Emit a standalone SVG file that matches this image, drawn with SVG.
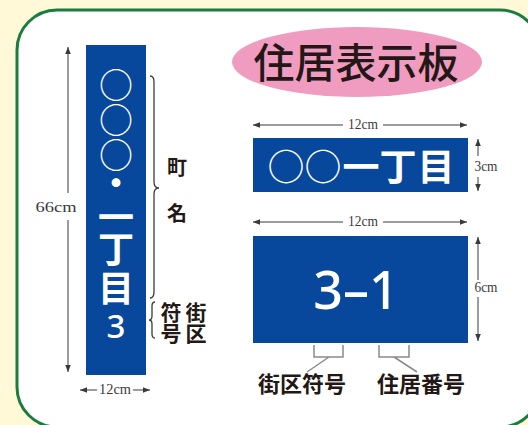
<svg xmlns="http://www.w3.org/2000/svg" width="528" height="425" viewBox="0 0 528 425">
<style>
.dim{stroke:#3a3a3a;stroke-width:1;fill:none}
.dt{font-family:"Liberation Serif",serif;font-size:14px;fill:#3a3a3a;text-anchor:middle}
.wt{font-family:"Noto Sans CJK JP",sans-serif;fill:#fff;font-weight:700;text-anchor:middle}
.wc{font-family:"Noto Sans CJK JP",sans-serif;fill:#fff;font-weight:400;text-anchor:middle}
.lb{font-family:"Noto Sans CJK JP",sans-serif;fill:#231815;font-weight:700;text-anchor:middle}
.board{fill:#07479c}
.brace{stroke:#3a3a3a;stroke-width:1.3;fill:none}
.br{stroke:#8a8a8a;stroke-width:1.5;fill:none}
</style>
<defs>
<marker id="ah" viewBox="0 0 10 10" refX="10" refY="5" markerWidth="7" markerHeight="7" orient="auto-start-reverse" markerUnits="userSpaceOnUse"><path d="M0,1 L10,5 L0,9 z" fill="#3a3a3a"/></marker>
</defs>
<rect x="0" y="0" width="528" height="425" fill="#fff9d8"/>
<rect x="17" y="10" width="523" height="417" rx="40" ry="40" fill="#ffffff" stroke="#1c7c3f" stroke-width="3"/>

<g id="title">
<ellipse cx="357" cy="62" rx="125" ry="35" fill="#f09cc1"/>
<text x="356" y="78" font-family="'Noto Sans CJK JP',sans-serif" font-size="41" font-weight="500" fill="#231815" text-anchor="middle">住居表示板</text>
</g>

<g id="vertical-board">
<rect class="board" x="86" y="45" width="60" height="330"/>
<text class="wc" x="116" y="98" font-size="34">○</text>
<text class="wc" x="116" y="133" font-size="34">○</text>
<text class="wc" x="116" y="168" font-size="34">○</text>
<text class="wt" x="116" y="196" font-size="34">・</text>
<text class="wt" x="116" y="231" font-size="36">一</text>
<text class="wt" x="116" y="263" font-size="36">丁</text>
<text class="wt" x="116" y="302" font-size="36">目</text>
<text x="116" y="338" font-family="'Noto Sans',sans-serif" font-size="33" font-weight="500" fill="#fff" text-anchor="middle">3</text>
</g>

<g id="vertical-labels">
<text class="lb" x="177" y="175" font-size="20">町</text>
<text class="lb" x="177" y="221" font-size="20">名</text>
<text class="lb" x="196" y="320" font-size="21">街</text>
<text class="lb" x="196" y="341" font-size="21">区</text>
<text class="lb" x="171" y="320" font-size="21">符</text>
<text class="lb" x="171" y="341" font-size="21">号</text>
</g>

<g id="board-town">
<rect class="board" x="253" y="138" width="215" height="54"/>
<text font-size="37" y="181"><tspan class="wc" x="286">○</tspan><tspan class="wc" x="323">○</tspan><tspan class="wt" x="361">一</tspan><tspan class="wt" x="398">丁</tspan><tspan class="wt" x="436">目</tspan></text>
</g>

<g id="board-number">
<rect class="board" x="253" y="236" width="215" height="107"/>
<text x="356" y="309" font-family="'Noto Sans',sans-serif" font-size="52" font-weight="500" fill="#fff" text-anchor="middle">3–1</text>
</g>

<g id="bottom-labels">
<text class="lb" x="302" y="392" font-size="22">街区符号</text>
<text class="lb" x="421" y="392" font-size="22">住居番号</text>
</g>

<g id="connectors">
<path class="brace" d="M150,76 Q154,76 154,82 L154,182 Q154,188 159,188 Q154,188 154,194 L154,292 Q154,298 150,298"/>
<path class="brace" d="M155,302 Q152,302 152,306 L152,316 Q152,320 149,320 Q152,320 152,324 L152,334 Q152,338 155,338"/>
<path class="dim" d="M68,193 V47" marker-end="url(#ah)"/>
<path class="dim" d="M68,220 V372" marker-end="url(#ah)"/>
<text class="dt" x="56" y="212" textLength="41" lengthAdjust="spacingAndGlyphs">66cm</text>
<path class="dim" d="M97,390 H80" marker-end="url(#ah)"/>
<path class="dim" d="M133,390 H150" marker-end="url(#ah)"/>
<text class="dt" x="115" y="394" textLength="32" lengthAdjust="spacingAndGlyphs">12cm</text>
<path class="dim" d="M343,125 H253" marker-end="url(#ah)"/>
<path class="dim" d="M383,125 H467" marker-end="url(#ah)"/>
<text class="dt" x="363" y="129" textLength="30" lengthAdjust="spacingAndGlyphs">12cm</text>
<path class="dim" d="M343,222 H253" marker-end="url(#ah)"/>
<path class="dim" d="M383,222 H467" marker-end="url(#ah)"/>
<text class="dt" x="363" y="226" textLength="30" lengthAdjust="spacingAndGlyphs">12cm</text>
<path class="dim" d="M478,156 V139" marker-end="url(#ah)"/>
<path class="dim" d="M478,177 V191" marker-end="url(#ah)"/>
<text class="dt" x="486" y="171" textLength="23" lengthAdjust="spacingAndGlyphs">3cm</text>
<path class="dim" d="M478,280 V237" marker-end="url(#ah)"/>
<path class="dim" d="M478,297 V341" marker-end="url(#ah)"/>
<text class="dt" x="486" y="292" textLength="23" lengthAdjust="spacingAndGlyphs">6cm</text>
<path class="br" d="M314,345 V357 H343 V345 M329,357 L307,372"/>
<path class="br" d="M379,345 V357 H409 V345 M394,357 L417,372"/>
</g>
</svg>
